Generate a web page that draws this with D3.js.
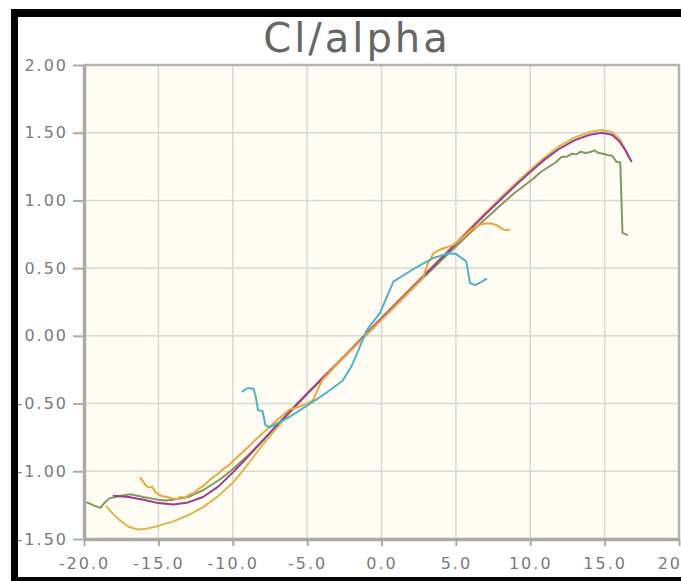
<!DOCTYPE html>
<html>
<head>
<meta charset="utf-8">
<script src="https://cdn.jsdelivr.net/npm/d3@7"></script>
<style>
  html, body { margin: 0; padding: 0; background: #fff; }
  svg { display: block; }
  text { font-family: "DejaVu Sans", Verdana, sans-serif; }
</style>
</head>
<body>
<svg id="chart" width="681" height="581"></svg>
<script>
// Lift coefficient vs angle of attack, five polars
const xTicks = [-20, -15, -10, -5, 0, 5, 10, 15, 20];
const yTicks = [-1.5, -1.0, -0.5, 0.0, 0.5, 1.0, 1.5, 2.0];

const greenAlpha = [-19.8, -19.4, -18.9, -18.6, -18.3, -17.9, -17.5, -16.9, -16.4, -16.0, -15.5, -15.0, -14.5, -14.0, -13.5, -13.0, -12.5, -12.0, -11.5, -11.0, -10.5, -10.0, -9.0, -8.0, -7.0, -6.0, -5.0, -4.0, -3.0, -2.0, -1.0, 0.0, 1.0, 2.0, 3.0, 4.0, 5.0, 6.0, 7.0, 8.0, 9.0, 9.6, 10.2, 10.7, 11.2, 11.7, 12.1, 12.5, 12.8, 13.1, 13.4, 13.7, 14.0, 14.3, 14.6, 14.9, 15.2, 15.5, 15.8, 16.05, 16.12, 16.2, 16.5];
const greenCl = [-1.23, -1.25, -1.27, -1.23, -1.20, -1.19, -1.18, -1.17, -1.18, -1.19, -1.20, -1.21, -1.215, -1.21, -1.20, -1.19, -1.165, -1.14, -1.105, -1.07, -1.03, -0.985, -0.885, -0.775, -0.655, -0.54, -0.43, -0.32, -0.21, -0.10, 0.01, 0.12, 0.23, 0.34, 0.45, 0.555, 0.66, 0.765, 0.865, 0.965, 1.06, 1.11, 1.16, 1.21, 1.245, 1.28, 1.32, 1.325, 1.345, 1.34, 1.36, 1.35, 1.355, 1.37, 1.35, 1.345, 1.335, 1.33, 1.285, 1.28, 1.05, 0.76, 0.745];

const yellowAlpha = [-18.5, -18.0, -17.5, -17.0, -16.4, -15.8, -15.2, -14.6, -14.0, -13.0, -12.0, -11.0, -10.0, -9.5, -9.0, -8.0, -7.0, -6.0, -5.0, -4.0, -3.0, -2.0, -1.0, 0.0, 1.0, 2.0, 3.0, 4.0, 5.0, 6.0, 7.0, 8.0, 9.0, 10.0, 11.0, 12.0, 13.0, 14.0, 14.8, 15.5, 16.0, 16.3, 16.6];
const yellowCl = [-1.26, -1.32, -1.37, -1.41, -1.43, -1.425, -1.41, -1.39, -1.37, -1.325, -1.265, -1.185, -1.085, -1.02, -0.95, -0.805, -0.675, -0.55, -0.43, -0.315, -0.205, -0.095, 0.02, 0.13, 0.245, 0.355, 0.465, 0.575, 0.685, 0.80, 0.91, 1.02, 1.125, 1.225, 1.32, 1.405, 1.465, 1.505, 1.52, 1.505, 1.455, 1.395, 1.32];

const purpleAlpha = [-18.0, -17.0, -16.0, -15.0, -14.0, -13.0, -12.0, -11.0, -10.0, -9.0, -8.0, -7.0, -6.0, -5.0, -4.0, -3.0, -2.0, -1.0, 0.0, 1.0, 2.0, 3.0, 4.0, 5.0, 6.0, 7.0, 8.0, 9.0, 10.0, 11.0, 12.0, 13.0, 14.0, 14.8, 15.5, 16.0, 16.4, 16.8];
const purpleCl = [-1.18, -1.19, -1.21, -1.235, -1.245, -1.23, -1.19, -1.115, -1.01, -0.895, -0.775, -0.655, -0.54, -0.425, -0.315, -0.205, -0.095, 0.02, 0.13, 0.24, 0.35, 0.46, 0.57, 0.68, 0.79, 0.90, 1.005, 1.11, 1.21, 1.305, 1.385, 1.445, 1.485, 1.50, 1.485, 1.435, 1.37, 1.29];

const orangeAlpha = [-16.2, -16.0, -15.8, -15.6, -15.4, -15.2, -15.0, -14.7, -14.4, -14.1, -13.8, -13.5, -13.2, -12.9, -12.6, -12.3, -12.0, -11.7, -11.4, -11.0, -10.6, -10.2, -9.8, -9.4, -9.0, -8.5, -8.0, -7.0, -6.2, -5.6, -5.0, -4.6, -4.3, -4.0, -3.0, -2.0, -1.0, 0.0, 1.0, 2.0, 2.8, 3.1, 3.5, 4.0, 4.8, 5.5, 6.0, 6.6, 7.0, 7.4, 7.8, 8.1, 8.4, 8.6];
const orangeCl = [-1.05, -1.08, -1.11, -1.12, -1.115, -1.155, -1.17, -1.185, -1.19, -1.2, -1.205, -1.19, -1.195, -1.17, -1.16, -1.13, -1.11, -1.08, -1.05, -1.02, -0.98, -0.95, -0.905, -0.865, -0.825, -0.77, -0.72, -0.62, -0.545, -0.525, -0.50, -0.475, -0.40, -0.33, -0.21, -0.10, 0.01, 0.12, 0.23, 0.34, 0.43, 0.53, 0.61, 0.64, 0.67, 0.73, 0.78, 0.82, 0.83, 0.83, 0.815, 0.79, 0.78, 0.785];

const cyanAlpha = [-9.35, -9.0, -8.6, -8.45, -8.3, -8.0, -7.8, -7.5, -7.0, -6.2, -5.5, -4.8, -3.7, -2.6, -2.0, -1.45, -1.0, -0.1, 0.8, 2.1, 3.5, 4.5, 5.0, 5.7, 5.95, 6.3, 6.75, 7.05];
const cyanCl = [-0.41, -0.385, -0.39, -0.45, -0.55, -0.555, -0.66, -0.675, -0.645, -0.60, -0.55, -0.50, -0.42, -0.33, -0.22, -0.08, 0.04, 0.17, 0.40, 0.49, 0.575, 0.61, 0.605, 0.55, 0.39, 0.375, 0.40, 0.42];

const series = [
  { name: "yellow", color: "#dcb84a", alpha: yellowAlpha, cl: yellowCl },
  { name: "green",  color: "#7f9a5c", alpha: greenAlpha,  cl: greenCl },
  { name: "purple", color: "#9b3c92", alpha: purpleAlpha, cl: purpleCl },
  { name: "orange", color: "#eba63c", alpha: orangeAlpha, cl: orangeCl },
  { name: "cyan",   color: "#4fb3c8", alpha: cyanAlpha,   cl: cyanCl }
];

const svg = d3.select("#chart");
const x = d3.scaleLinear().domain([-20, 20]).range([84, 679]);
const y = d3.scaleLinear().domain([-1.5, 2]).range([539, 65]);

// plot background
svg.append("rect")
  .attr("x", x(-20)).attr("y", y(2))
  .attr("width", x(20) - x(-20)).attr("height", y(-1.5) - y(2))
  .attr("fill", "#fffcf3");

// grid
const grid = svg.append("g").attr("stroke", "#d9d8d5").attr("stroke-width", 1.5);
grid.selectAll(".gx").data(xTicks.slice(1, -1)).join("line")
  .attr("x1", d => x(d)).attr("x2", d => x(d))
  .attr("y1", y(2)).attr("y2", y(-1.5));
grid.selectAll(".gy").data(yTicks.slice(1, -1)).join("line")
  .attr("y1", d => y(d)).attr("y2", d => y(d))
  .attr("x1", x(-20)).attr("x2", x(20));

// top and right border of the plot
svg.append("path")
  .attr("d", `M${x(-20)},${y(2)}H${x(20)}V${y(-1.5)}`)
  .attr("fill", "none").attr("stroke", "#b3b3b3").attr("stroke-width", 2.5);

// curves
const line = d3.line()
  .x(d => x(d[0])).y(d => y(d[1]))
  .curve(d3.curveLinear);
svg.append("g").selectAll("path").data(series).join("path")
  .attr("d", s => line(d3.zip(s.alpha, s.cl)))
  .attr("fill", "none")
  .attr("stroke", s => s.color)
  .attr("stroke-width", 2)
  .attr("stroke-linejoin", "round")
  .attr("stroke-linecap", "round");

// axes
const yAxis = svg.append("g")
  .attr("transform", `translate(${x(-20)},0)`)
  .call(d3.axisLeft(y).tickValues(yTicks).tickSize(11).tickSizeOuter(0)
    .tickPadding(5).tickFormat(d => d.toFixed(2)));
const xAxis = svg.append("g")
  .attr("transform", `translate(0,${y(-1.5)})`)
  .call(d3.axisBottom(x).tickValues(xTicks).tickSize(7).tickSizeOuter(0)
    .tickPadding(12).tickFormat(d => d.toFixed(1)));

[yAxis, xAxis].forEach(ax => {
  ax.select(".domain").attr("stroke", "#aaaaaa").attr("stroke-width", 3.5);
  ax.selectAll(".tick line").attr("stroke", "#aaaaaa").attr("stroke-width", 2);
  ax.selectAll(".tick text")
    .attr("fill", "#7a7a7a")
    .style("font-size", "16px")
    .style("letter-spacing", "2px")
    .style("font-family", "'DejaVu Sans', Verdana, sans-serif");
});

// title
svg.append("text")
  .attr("x", 357).attr("y", 52)
  .attr("text-anchor", "middle")
  .attr("fill", "#666666")
  .style("font-size", "40px")
  .style("letter-spacing", "3px")
  .text("Cl/alpha");

// black frame
const frame = svg.append("g").attr("fill", "#000");
frame.append("rect").attr("x", 11).attr("y", 9).attr("width", 670).attr("height", 8);
frame.append("rect").attr("x", 11).attr("y", 9).attr("width", 7).attr("height", 572);
frame.append("rect").attr("x", 11).attr("y", 577).attr("width", 670).attr("height", 4);
</script>
</body>
</html>
